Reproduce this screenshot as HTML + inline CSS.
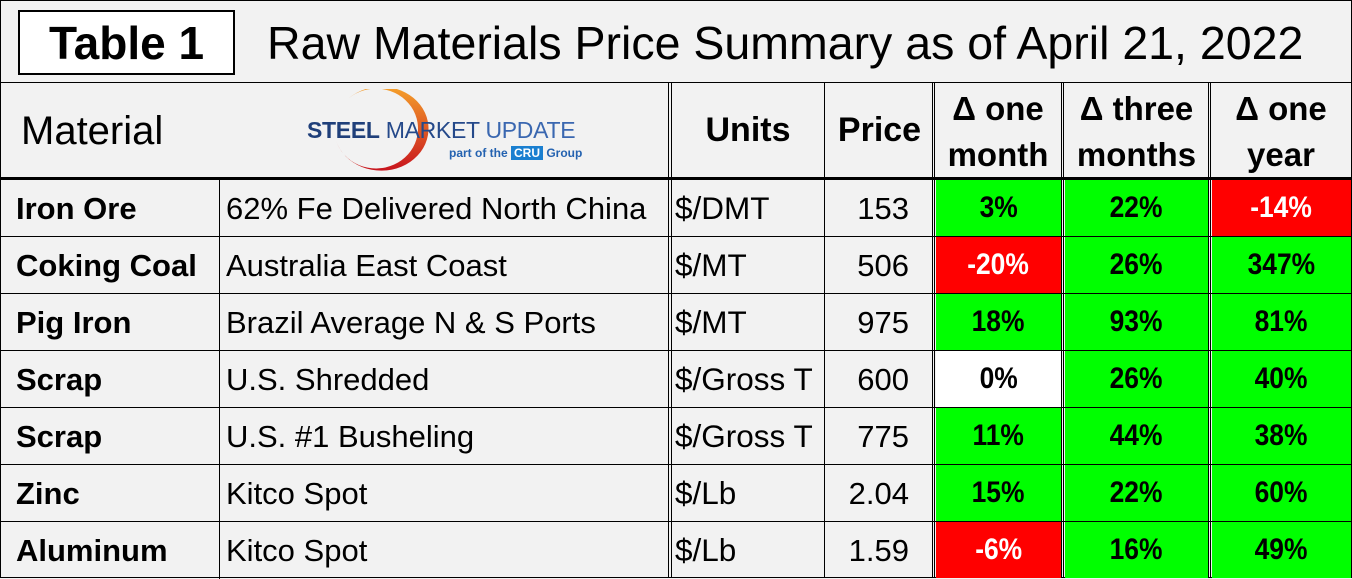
<!DOCTYPE html>
<html><head><meta charset="utf-8"><style>
body{margin:0;width:1352px;height:578px;background:#f2f2f2;font-family:"Liberation Sans",Arial,sans-serif;overflow:hidden}
#wrap{position:absolute;left:0;top:0;width:1350px;height:576px;border:1px solid #000;background:#f2f2f2}
.a{position:absolute}
.h{position:absolute;background:#000}
.c{position:absolute;display:flex;align-items:center;box-sizing:border-box;white-space:nowrap}
.pct{font-weight:bold;justify-content:center}
.pct span{display:inline-block;font-size:30px;transform:scaleX(0.88)}
</style></head><body>
<div id="wrap">
<div class="a" style="left:17px;top:9px;width:217px;height:65px;border:2px solid #000;box-sizing:border-box;background:#fff;font-weight:bold;font-size:46px;text-align:center;line-height:62px">Table 1</div>
<div class="a" style="left:266px;top:14px;font-size:46.5px;line-height:56px">Raw Materials Price Summary as of April 21, 2022</div>
<div class="a" style="left:20px;top:106px;font-size:40px;line-height:48px">Material</div>
<div class="a" style="left:300px;top:88px;width:290px;height:82px">
<svg width="290" height="82" style="position:absolute;left:0;top:0">
<defs><linearGradient id="g" x1="0" y1="0" x2="0" y2="1"><stop offset="0" stop-color="#f5a02a"/><stop offset="1" stop-color="#c8141e"/></linearGradient></defs>
<path d="M 50 28 A 45 40 0 1 1 38 68 A 40 38 0 1 0 50 28 Z" fill="url(#g)" transform="translate(-5,-20) scale(1.05)"/>
</svg>
<div class="a" style="left:6px;top:28px;font-size:23px;color:#1f3f7a;letter-spacing:-0.3px"><b>STEEL</b> <span style="color:#25498a">MARKET</span> <span style="color:#3a67b0">UPDATE</span></div>
<div class="a" style="left:148px;top:57px;font-size:12px;font-weight:bold;color:#2462b0">part of the <span style="background:#1a7fd0;color:#fff;padding:0 3px">CRU</span> Group</div>
</div>
<div class="c" style="left:670px;top:82px;width:154px;height:95px;justify-content:center;font-weight:bold;font-size:34px">Units</div>
<div class="c" style="left:825px;top:82px;width:107px;height:95px;justify-content:center;font-weight:bold;font-size:34px">Price</div>
<div class="c" style="left:934px;top:84px;width:126px;height:93px;justify-content:center;text-align:center;font-weight:bold;font-size:33px;line-height:46px">Δ one<br>month</div>
<div class="c" style="left:1063px;top:84px;width:145px;height:93px;justify-content:center;text-align:center;font-weight:bold;font-size:33px;line-height:46px">Δ three<br>months</div>
<div class="c" style="left:1210px;top:84px;width:140px;height:93px;justify-content:center;text-align:center;font-weight:bold;font-size:33px;line-height:46px">Δ one<br>year</div>
</div>
<script>
const materials=["Iron Ore","Coking Coal","Pig Iron","Scrap","Scrap","Zinc","Aluminum"];
const descriptions=["62% Fe Delivered North China","Australia East Coast","Brazil Average N & S Ports","U.S. Shredded","U.S. #1 Busheling","Kitco Spot","Kitco Spot"];
const units=["$/DMT","$/MT","$/MT","$/Gross T","$/Gross T","$/Lb","$/Lb"];
const prices=["153","506","975","600","775","2.04","1.59"];
const oneMonth=[3,-20,18,0,11,15,-6];
const threeMonths=[22,26,93,26,44,22,16];
const oneYear=[-14,347,81,40,38,60,49];

const wrap=document.getElementById('wrap');
const rowTop=179, rowH=57;
function line(x,y,w,h,name){const d=document.createElement('div');d.className='h';d.style.cssText=`left:${x}px;top:${y}px;width:${w}px;height:${h}px`;


wrap.appendChild(d);}
function cell(x,y,w,h,txt,cls,style,name){const d=document.createElement('div');d.className='c '+(cls||'');d.style.cssText=`left:${x}px;top:${y}px;width:${w}px;height:${h}px;`+(style||'');d.textContent=txt;


wrap.appendChild(d);return d;}
function pctCell(x,w,y,v,name){let bg=v>0?'#00ff00':(v<0?'#ff0000':'#ffffff');let col=v<0?'#fff':'#000';
const d=cell(x,y+1,w,rowH-1,'','pct',`background:${bg};color:${col};`,name);
const s=document.createElement('span');s.textContent=v+'%';d.appendChild(s);}
const n=materials.length;
for(let i=0;i<n;i++){
 const y=rowTop+i*rowH;
 cell(15,y,204,rowH,materials[i],'','font-weight:bold;font-size:31px;',`material-${i}`);
 cell(225,y,442,rowH,descriptions[i],'','font-size:31px;',`description-${i}`);
 cell(674,y,150,rowH,units[i],'','font-size:31.5px;',`units-${i}`);
 cell(825,y,83,rowH,prices[i],'','font-size:31px;justify-content:flex-end;',`price-${i}`);
 pctCell(935,125,y-1,oneMonth[i],`one-month-change-${i}`);
 pctCell(1064,143,y-1,threeMonths[i],`three-months-change-${i}`);
 pctCell(1211,139,y-1,oneYear[i],`one-year-change-${i}`);
 if(i>0) line(0,y-1,1350,1,`row-divider-${i}`);
}
line(0,81,1350,1,'title-divider');
line(0,176,1350,3,'header-divider');
line(218,179,1,rowH*n,'col-line-1');
line(667,82,1,495,'col-line-2a');line(670,82,1,495,'col-line-2b');
line(823,82,1,495,'col-line-3');
line(931,82,1,495,'col-line-4a');line(933,82,1,495,'col-line-4b');
line(1060,82,1,495,'col-line-5a');line(1062,82,1,495,'col-line-5b');
line(1207,82,1,495,'col-line-6a');line(1209,82,1,495,'col-line-6b');
</script>
</body></html>
